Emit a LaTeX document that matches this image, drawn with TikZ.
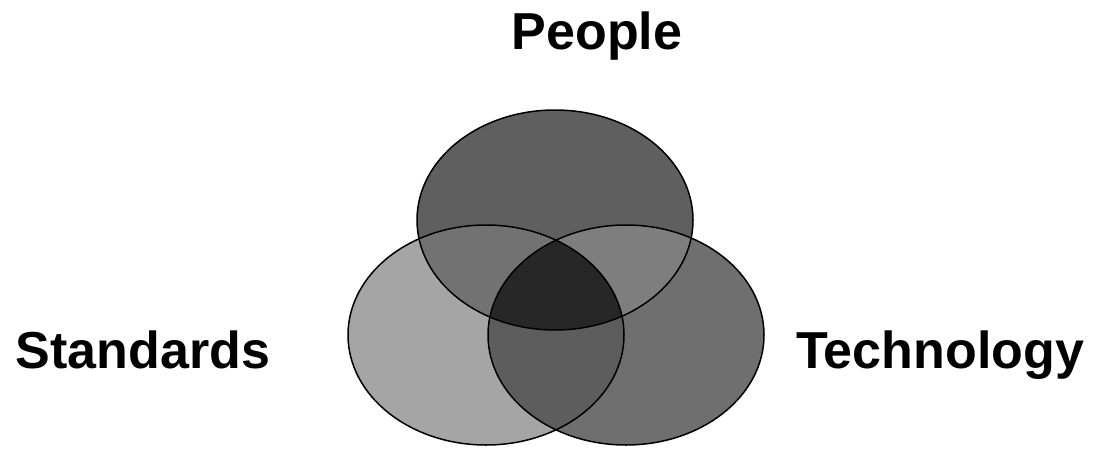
\documentclass[tikz,border=0pt]{standalone}
\usepackage{fontspec}
\setmainfont{Liberation Sans}

\definecolor{peoplegray}{gray}{0.373}
\definecolor{standardsgray}{gray}{0.647}
\definecolor{technologygray}{gray}{0.435}
\definecolor{pslap}{gray}{0.447}
\definecolor{ptlap}{gray}{0.494}
\definecolor{stlap}{gray}{0.365}
\definecolor{corelap}{gray}{0.153}

\begin{document}
\begin{tikzpicture}[
  x=1pt,
  y=-1pt,
  setlabel/.style={
      font=\fontsize{52}{60}\selectfont\bfseries,
      anchor=base,
      inner sep=0pt
  },
  outline/.style={
      draw=black,
      line width=1.5pt
  }
]

\useasboundingbox (0,0) rectangle (1099,460);

% ==================================================
% Set centres
% ==================================================

\coordinate (people) at (555,220);
\coordinate (standards) at (486,335);
\coordinate (technology) at (626,335);

% ==================================================
% Single sets
% ==================================================

\fill[standardsgray] (standards) ellipse (138 and 110);
\fill[technologygray] (technology) ellipse (138 and 110);
\fill[peoplegray] (people) ellipse (138 and 110);

% ==================================================
% Overlaps
% ==================================================

\begin{scope}
  \clip (people) ellipse (138 and 110);
  \fill[pslap] (standards) ellipse (138 and 110);
  \fill[ptlap] (technology) ellipse (138 and 110);
\end{scope}

\begin{scope}
  \clip (standards) ellipse (138 and 110);
  \fill[stlap] (technology) ellipse (138 and 110);
  \clip (technology) ellipse (138 and 110);
  \fill[corelap] (people) ellipse (138 and 110);
\end{scope}

% ==================================================
% Outlines
% ==================================================

\draw[outline] (people) ellipse (138 and 110);
\draw[outline] (standards) ellipse (138 and 110);
\draw[outline] (technology) ellipse (138 and 110);

% ==================================================
% Labels
% ==================================================

\node[setlabel] (peoplelabel) at (597,50) {People};
\node[setlabel] (standardslabel) at (143,368) {Standards};
\node[setlabel] (technologylabel) at (940,368) {Technology};

\end{tikzpicture}
\end{document}
